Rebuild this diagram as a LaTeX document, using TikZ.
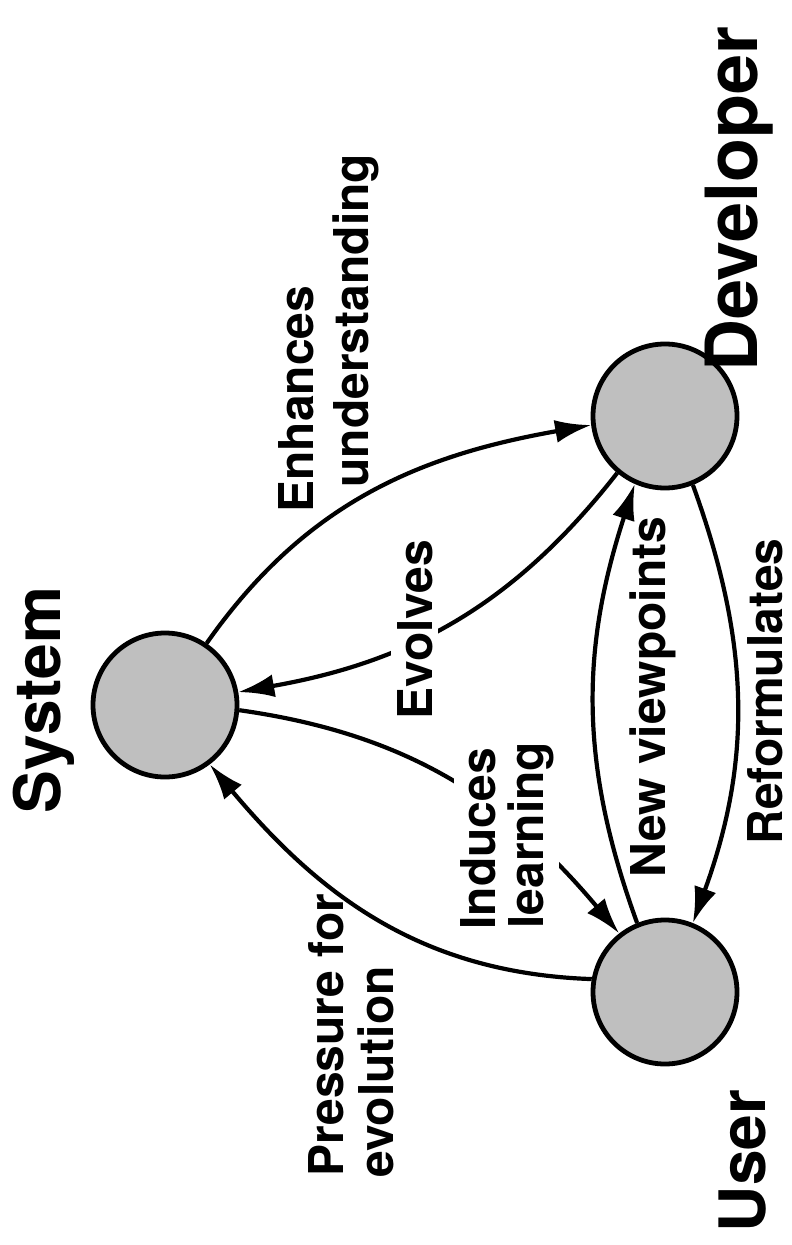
\documentclass[tikz,border=0pt]{standalone}
\usepackage{fontspec}
\setmainfont{TeX Gyre Heros}
\usepackage{xcolor}
\usetikzlibrary{arrows.meta}
\definecolor{agentgray}{RGB}{191,191,191}

\begin{document}
\begin{tikzpicture}[x=0.5pt,y=0.5pt,
		agent/.style={circle,draw,line width=2.4pt,fill=agentgray,minimum size=72pt,inner sep=0pt},
		flow/.style={line width=2.1pt,-{Latex[length=18pt,width=11.5pt]}},
		role/.style={rotate=90,anchor=base,inner sep=0pt,text depth=0pt,font=\fontsize{32}{32}\selectfont\bfseries},
		lbl/.style={rotate=90,anchor=base west,inner sep=0pt,font=\fontsize{24}{24}\selectfont\bfseries},
		cutlbl/.style={lbl,fill=white,inner sep=3pt}]
		\useasboundingbox (0,0) rectangle (791,-1245);
		%元素
		\node[agent] (sys) at (165,-705) {};
		\node[agent] (dev) at (665,-416) {};
		\node[agent] (usr) at (665,-992) {};
		\node[role] (sys-name) at (60,-700) {System};
		\node[role,font=\fontsize{36}{36}\selectfont\bfseries] (dev-name) at (757,-199) {Developer};
		\node[role] (usr-name) at (765,-1161) {User};
		%关系
		\draw[flow] (sys.56) to[out=55,in=190] (dev.187);
		\draw[flow] (dev.230) to[out=232,in=10] (sys.10);
		\draw[flow] (sys.-4) to[out=-8,in=130] (usr.128);
		\draw[flow] (usr.170) to[out=178,in=-50] (sys.-53);
		\draw[flow] (usr.112) to[out=110,in=252] (dev.246);
		\draw[flow] (dev.-68) to[out=-70,in=70] (usr.68);
		%标签
		\node[lbl] (enh-1) at (313,-513) {Enhances};
		\node[lbl] (enh-2) at (368,-488) {understanding};
		\node[cutlbl] (evo) at (432,-726) {Evolves};
		\node[cutlbl] (ind-1) at (495,-936) {Induces};
		\node[cutlbl] (ind-2) at (543,-935) {learning};
		\node[lbl] (pre-1) at (343,-1177) {Pressure for};
		\node[lbl] (pre-2) at (393,-1178) {evolution};
		\node[lbl] (new) at (665,-878) {New viewpoints};
		\node[lbl,text depth=0pt] (ref) at (782,-845) {Reformulates};
	\end{tikzpicture}
\end{document}
